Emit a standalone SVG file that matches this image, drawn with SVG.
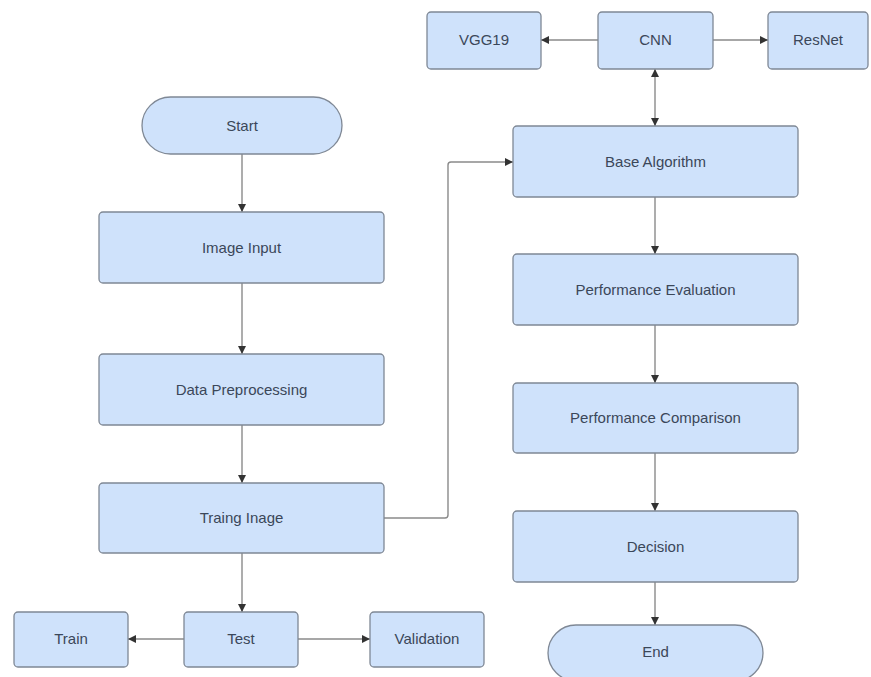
<svg xmlns="http://www.w3.org/2000/svg" width="871" height="677" viewBox="0 0 871 677">
  <style>
    .box { fill: #cfe2fb; stroke: #7f8895; stroke-width: 1.3; }
    .lbl { font-family: "Liberation Sans", Arial, sans-serif; font-size: 15px; fill: #3b4759; text-anchor: middle; }
    .wire { fill: none; stroke: #8a8a8a; stroke-width: 1.4; }
  </style>
  <defs>
    <marker id="arrow" viewBox="0 0 10 10" refX="10" refY="5" markerWidth="8" markerHeight="8" markerUnits="userSpaceOnUse" orient="auto-start-reverse">
      <path d="M0,0 L10,5 L0,10 z" fill="#333"/>
    </marker>
  </defs>
  <rect width="871" height="677" fill="#ffffff"/>

  <g id="connectors">
    <line class="wire" x1="242" y1="154" x2="242" y2="212" marker-end="url(#arrow)"/>
    <line class="wire" x1="242" y1="283" x2="242" y2="354" marker-end="url(#arrow)"/>
    <line class="wire" x1="242" y1="425" x2="242" y2="483" marker-end="url(#arrow)"/>
    <line class="wire" x1="242" y1="553" x2="242" y2="612" marker-end="url(#arrow)"/>
    <line class="wire" x1="184" y1="639" x2="128" y2="639" marker-end="url(#arrow)"/>
    <line class="wire" x1="298" y1="639" x2="370" y2="639" marker-end="url(#arrow)"/>
    <path class="wire" d="M384,518 H445 Q448,518 448,515 V165 Q448,162 451,162 H513" marker-end="url(#arrow)"/>
    <line class="wire" x1="598" y1="40" x2="541" y2="40" marker-end="url(#arrow)"/>
    <line class="wire" x1="713" y1="40" x2="768" y2="40" marker-end="url(#arrow)"/>
    <line class="wire" x1="655" y1="69" x2="655" y2="126" marker-start="url(#arrow)" marker-end="url(#arrow)"/>
    <line class="wire" x1="655" y1="197" x2="655" y2="254" marker-end="url(#arrow)"/>
    <line class="wire" x1="655" y1="325" x2="655" y2="383" marker-end="url(#arrow)"/>
    <line class="wire" x1="655" y1="453" x2="655" y2="511" marker-end="url(#arrow)"/>
    <line class="wire" x1="655" y1="582" x2="655" y2="625" marker-end="url(#arrow)"/>
  </g>

  <g id="start">
    <rect class="box" x="142" y="97" width="200" height="57" rx="28.5"/>
    <text class="lbl" x="242" y="131">Start</text>
  </g>
  <g id="image-input">
    <rect class="box" x="99" y="212" width="285" height="71" rx="4"/>
    <text class="lbl" x="241.5" y="253">Image Input</text>
  </g>
  <g id="data-preprocessing">
    <rect class="box" x="99" y="354" width="285" height="71" rx="4"/>
    <text class="lbl" x="241.5" y="395">Data Preprocessing</text>
  </g>
  <g id="traing-image">
    <rect class="box" x="99" y="483" width="285" height="70" rx="4"/>
    <text class="lbl" x="241.5" y="523">Traing Inage</text>
  </g>
  <g id="train">
    <rect class="box" x="14" y="612" width="114" height="55" rx="4"/>
    <text class="lbl" x="71" y="644">Train</text>
  </g>
  <g id="test">
    <rect class="box" x="184" y="612" width="114" height="55" rx="4"/>
    <text class="lbl" x="241" y="644">Test</text>
  </g>
  <g id="validation">
    <rect class="box" x="370" y="612" width="114" height="55" rx="4"/>
    <text class="lbl" x="427" y="644">Validation</text>
  </g>

  <g id="vgg19">
    <rect class="box" x="427" y="12" width="114" height="57" rx="4"/>
    <text class="lbl" x="484" y="45">VGG19</text>
  </g>
  <g id="cnn">
    <rect class="box" x="598" y="12" width="115" height="57" rx="4"/>
    <text class="lbl" x="655.5" y="45">CNN</text>
  </g>
  <g id="resnet">
    <rect class="box" x="768" y="12" width="100" height="57" rx="4"/>
    <text class="lbl" x="818" y="45">ResNet</text>
  </g>
  <g id="base-algorithm">
    <rect class="box" x="513" y="126" width="285" height="71" rx="4"/>
    <text class="lbl" x="655.5" y="167">Base Algorithm</text>
  </g>
  <g id="performance-evaluation">
    <rect class="box" x="513" y="254" width="285" height="71" rx="4"/>
    <text class="lbl" x="655.5" y="295">Performance Evaluation</text>
  </g>
  <g id="performance-comparison">
    <rect class="box" x="513" y="383" width="285" height="70" rx="4"/>
    <text class="lbl" x="655.5" y="423">Performance Comparison</text>
  </g>
  <g id="decision">
    <rect class="box" x="513" y="511" width="285" height="71" rx="4"/>
    <text class="lbl" x="655.5" y="552">Decision</text>
  </g>
  <g id="end">
    <rect class="box" x="548" y="625" width="215" height="56" rx="28"/>
    <text class="lbl" x="655.5" y="657">End</text>
  </g>
</svg>
